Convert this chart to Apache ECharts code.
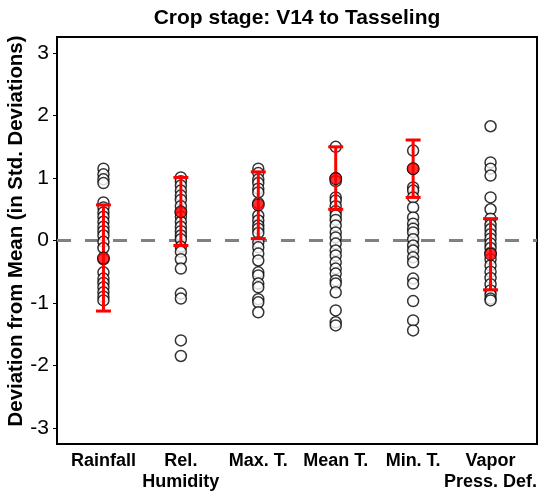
<!DOCTYPE html>
<html>
<head>
<meta charset="utf-8">
<script src="https://cdn.jsdelivr.net/npm/echarts@6/dist/echarts.min.js"></script>
<style>
html,body{margin:0;padding:0;background:#fff;}
#chart{width:545px;height:500px;}
</style>
</head>
<body>
<div id="chart"></div>
<script>
var categories = ['Rainfall', 'Rel.\nHumidity', 'Max. T.', 'Mean T.', 'Min. T.', 'Vapor\nPress. Def.'];
var yTicks = [-3, -2, -1, 0, 1, 2, 3];

var rainfall = [1.15, 1.06, 0.98, 0.92, 0.61, 0.53, 0.45, 0.38, 0.30, 0.22, 0.15, 0.08, -0.02, -0.12, -0.30, -0.51, -0.61, -0.68, -0.75, -0.83, -0.90, -0.96];
var relHumidity = [1.01, 0.95, 0.88, 0.80, 0.72, 0.65, 0.55, 0.45, 0.38, 0.30, 0.22, 0.15, 0.08, 0.02, -0.10, -0.18, -0.30, -0.45, -0.85, -0.93, -1.60, -1.85];
var maxT = [1.15, 1.08, 0.98, 0.92, 0.83, 0.77, 0.60, 0.40, 0.32, 0.24, 0.19, 0.12, -0.03, -0.11, -0.21, -0.32, -0.51, -0.56, -0.69, -0.75, -0.94, -0.99, -1.15];
var meanT = [1.50, 1.00, 0.95, 0.69, 0.64, 0.55, 0.47, 0.40, 0.33, 0.24, 0.13, 0.05, -0.05, -0.16, -0.24, -0.35, -0.45, -0.53, -0.64, -0.69, -0.83, -1.12, -1.31, -1.36];
var minT = [1.44, 1.15, 0.85, 0.80, 0.69, 0.53, 0.37, 0.27, 0.19, 0.13, 0.02, -0.08, -0.16, -0.27, -0.35, -0.61, -0.69, -0.97, -1.28, -1.44];
var vaporPD = [1.83, 1.25, 1.15, 1.04, 0.69, 0.50, 0.35, 0.25, 0.18, 0.10, 0.03, -0.05, -0.12, -0.20, -0.30, -0.40, -0.50, -0.60, -0.70, -0.80, -0.87, -0.93, -0.96];

var highlightValue = [-0.28, 0.46, 0.57, 0.99, 1.15, -0.22];
var errLow = [-1.13, -0.08, 0.03, 0.50, 0.69, -0.79];
var errHigh = [0.57, 1.01, 1.10, 1.50, 1.61, 0.35];

var allSeries = [rainfall, relHumidity, maxT, meanT, minT, vaporPD];
var pts = [];
allSeries.forEach(function (arr, i) {
  arr.forEach(function (v) { pts.push([i + 1, v]); });
});
var hl = highlightValue.map(function (v, i) { return [i + 1, v]; });
var errData = errLow.map(function (lo, i) { return [i + 1, lo, errHigh[i]]; });

var FONT = "'Liberation Sans', Arial, sans-serif";
var chart = echarts.init(document.getElementById('chart'));
chart.setOption({
  animation: false,
  backgroundColor: '#fff',
  title: {
    text: 'Crop stage: V14 to Tasseling',
    left: 292, top: 3, textAlign: 'center',
    textStyle: { fontFamily: FONT, fontWeight: 'bold', fontSize: 21, color: '#000' }
  },
  grid: { left: 57, right: 8, top: 37, bottom: 56, outerBoundsMode: 'none', containLabel: false, show: true, borderColor: '#000', borderWidth: 2, backgroundColor: '#fff' },
  xAxis: {
    type: 'value', min: 0.4, max: 6.6,
    splitLine: { show: false },
    axisLine: { show: false },
    axisTick: { show: true, customValues: [1, 2, 3, 4, 5, 6], length: 4, lineStyle: { color: '#000', width: 1 } },
    axisLabel: {
      customValues: [1, 2, 3, 4, 5, 6],
      showMaxLabel: true, showMinLabel: true, hideOverlap: false,
      formatter: function (v) { return categories[Math.round(v) - 1] || ''; },
      fontFamily: FONT, fontWeight: 'bold', fontSize: 18, color: '#000', margin: 7, lineHeight: 21
    }
  },
  yAxis: {
    type: 'value', min: -3.26, max: 3.26,
    name: 'Deviation from Mean (in Std. Deviations)',
    nameLocation: 'middle', nameGap: 31, nameMoveOverlap: false,
    nameTextStyle: { fontFamily: FONT, fontWeight: 'bold', fontSize: 20.4, color: '#000', padding: [0, 0, 0, 19] },
    splitLine: { show: false },
    axisLine: { show: false },
    axisTick: { show: true, customValues: yTicks, length: 4, lineStyle: { color: '#000', width: 1 } },
    axisLabel: {
      customValues: yTicks,
      fontFamily: FONT, fontSize: 21, color: '#000', margin: 8
    }
  },
  series: [
    {
      type: 'line', z: 1, silent: true, symbol: 'none',
      data: [[0.4, 0], [6.6, 0]],
      lineStyle: { color: '#808080', width: 3, type: [14, 14] }
    },
    {
      type: 'scatter', z: 2, symbol: 'circle', symbolSize: 11,
      data: pts,
      itemStyle: { color: '#fff', borderColor: '#000', borderWidth: 1.5 }
    },
    {
      type: 'custom', z: 3,
      data: errData,
      renderItem: function (params, api) {
        var x = api.value(0);
        var lo = api.coord([x, api.value(1)]);
        var hi = api.coord([x, api.value(2)]);
        var hw = 7.5;
        var st = { stroke: '#ff0000', lineWidth: 3 };
        return {
          type: 'group',
          children: [
            { type: 'line', shape: { x1: lo[0], y1: lo[1], x2: hi[0], y2: hi[1] }, style: st },
            { type: 'line', shape: { x1: lo[0] - hw, y1: lo[1], x2: lo[0] + hw, y2: lo[1] }, style: st },
            { type: 'line', shape: { x1: hi[0] - hw, y1: hi[1], x2: hi[0] + hw, y2: hi[1] }, style: st }
          ]
        };
      }
    },
    {
      type: 'scatter', z: 4, symbol: 'circle', symbolSize: 12,
      data: hl,
      itemStyle: { color: '#ff0000', borderColor: '#000', borderWidth: 1 }
    }
  ]
});
</script>
</body>
</html>
